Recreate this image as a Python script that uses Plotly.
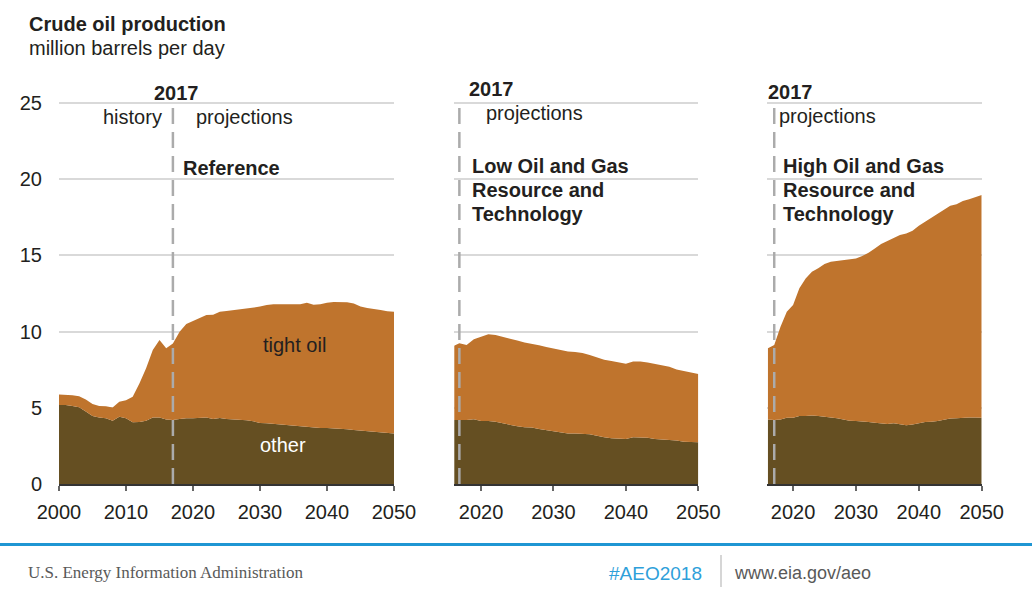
import plotly.graph_objects as go

# ---------------- data ----------------
years_ref = list(range(2000, 2051))
ref_other = [5.18, 5.18, 5.12, 5.03, 4.75, 4.46, 4.37, 4.31, 4.15, 4.42,
             4.31, 4.05, 4.07, 4.15, 4.37, 4.37, 4.24, 4.20, 4.26, 4.31,
             4.31, 4.35, 4.37, 4.26, 4.33, 4.26, 4.24, 4.22, 4.18, 4.11,
             4.00, 3.98, 3.94, 3.90, 3.85, 3.81, 3.77, 3.72, 3.70, 3.68,
             3.68, 3.66, 3.64, 3.59, 3.55, 3.51, 3.46, 3.42, 3.37, 3.33, 3.31]
ref_total = [5.88, 5.86, 5.82, 5.75, 5.55, 5.25, 5.12, 5.10, 5.02, 5.40,
             5.50, 5.73, 6.60, 7.60, 8.80, 9.45, 8.90, 9.22, 9.99, 10.50,
             10.70, 10.93, 11.09, 11.10, 11.30, 11.35, 11.40, 11.46, 11.55, 11.60,
             11.64, 11.75, 11.80, 11.80, 11.81, 11.83, 11.80, 11.90, 11.77, 11.80,
             11.90, 11.94, 11.94, 11.92, 11.85, 11.64, 11.55, 11.50, 11.42, 11.33, 11.30]

years_side = list(range(2016, 2051))
low_other = [4.20, 4.20, 4.20, 4.25,
             4.14, 4.14, 4.09, 3.98, 3.87, 3.79, 3.72, 3.70, 3.61, 3.54,
             3.48, 3.41, 3.32, 3.32, 3.30, 3.26, 3.17, 3.06, 3.00, 2.98,
             2.96, 3.06, 3.06, 3.04, 2.96, 2.93, 2.89, 2.85, 2.78, 2.74, 2.74]
low_total = [9.01, 9.23, 9.12, 9.49,
             9.67, 9.82, 9.78, 9.67, 9.56, 9.41, 9.28, 9.21, 9.10, 8.99,
             8.88, 8.81, 8.70, 8.66, 8.59, 8.46, 8.29, 8.16, 8.07, 8.00,
             7.89, 8.03, 8.03, 7.98, 7.89, 7.80, 7.69, 7.52, 7.41, 7.32, 7.21]
high_other = [4.24, 4.20, 4.24, 4.35,
              4.35, 4.46, 4.46, 4.50, 4.46, 4.42, 4.37, 4.31, 4.24, 4.15,
              4.13, 4.11, 4.07, 4.02, 3.96, 3.94, 3.98, 3.92, 3.85, 3.90,
              4.00, 4.07, 4.09, 4.13, 4.22, 4.29, 4.31, 4.35, 4.37, 4.37, 4.35]
high_total = [8.90, 9.12, 10.32, 11.30,
              11.74, 12.84, 13.49, 13.93, 14.15, 14.43, 14.59, 14.65, 14.70, 14.76,
              14.80, 14.96, 15.18, 15.46, 15.74, 15.94, 16.12, 16.34, 16.44, 16.62,
              16.95, 17.21, 17.47, 17.76, 18.04, 18.26, 18.35, 18.57, 18.68, 18.80, 18.96]

ref_ticks = [2000, 2010, 2020, 2030, 2040, 2050]
side_ticks = [2020, 2030, 2040, 2050]
y_ticks = [0, 5, 10, 15, 20, 25]
split_year = 2017

# ---------------- style ----------------
W, H = 1032, 598
SANS = "Liberation Sans, Arial, sans-serif"
SERIF = "Liberation Serif, Times New Roman, serif"
C_TIGHT = "#BF742D"
C_OTHER = "#654F22"
C_TEXT = "#231F20"
C_GRID = "#D9D9D9"
C_DASH = "#ABABAB"
C_BLUE = "#1F96D3"


def px(x):
    return x / W


def py(y):
    return 1 - y / H


y_dom = [py(484), py(484 - 26 * 15.24)]
panels = [
    ("x", "y", years_ref, ref_other, ref_total, [px(59), px(394)], [2000, 2050], ref_ticks),
    ("x2", "y2", years_side, low_other, low_total, [px(454.3), px(698.3)], [2016.3, 2050], side_ticks),
    ("x3", "y3", years_side, high_other, high_total, [px(767.3), px(981.7)], [2015.9, 2050], side_ticks),
]

fig = go.Figure()
layout = dict(
    template="none",
    width=W, height=H, margin=dict(l=0, r=0, t=0, b=0, pad=0, autoexpand=False),
    paper_bgcolor="white", plot_bgcolor="rgba(0,0,0,0)",
    showlegend=False, font=dict(family=SANS, size=20, color=C_TEXT),
)
shapes = []
for i, (xa, ya, yrs, oth, tot, xdom, xr, ticks) in enumerate(panels):
    fig.add_trace(go.Scatter(x=yrs, y=oth, xaxis=xa, yaxis=ya, mode="lines",
                             line=dict(width=0, color=C_OTHER), fill="tozeroy",
                             fillcolor=C_OTHER, hoverinfo="skip", name="other"))
    fig.add_trace(go.Scatter(x=yrs, y=tot, xaxis=xa, yaxis=ya, mode="lines",
                             line=dict(width=0, color=C_TIGHT), fill="tonexty",
                             fillcolor=C_TIGHT, hoverinfo="skip", name="tight oil"))
    xkey = "xaxis" if i == 0 else f"xaxis{i+1}"
    ykey = "yaxis" if i == 0 else f"yaxis{i+1}"
    layout[xkey] = dict(domain=xdom, range=xr, anchor=ya, tickvals=ticks,
                        showgrid=False, zeroline=False, showline=True,
                        linecolor="#333333", linewidth=1.5, ticks="outside",
                        ticklen=5, tickwidth=1.5, tickcolor="#666666",
                        tickfont=dict(family=SANS, size=20, color=C_TEXT),
                        ticklabelstandoff=4, automargin=False, fixedrange=True)
    layout[ykey] = dict(domain=y_dom, range=[0, 26], anchor=xa, tickvals=y_ticks,
                        showgrid=True, gridcolor=C_GRID, gridwidth=1.5,
                        zeroline=False, showline=False, ticks="",
                        showticklabels=(i == 0),
                        tickfont=dict(family=SANS, size=20, color=C_TEXT),
                        ticklabelstandoff=16, automargin=False, fixedrange=True)
    shapes.append(dict(type="line", xref=xa, yref=ya, x0=split_year, x1=split_year,
                       y0=24.67, y1=0, line=dict(color=C_DASH, width=2.5, dash="16px,8px"),
                       layer="above"))

# footer lines
shapes.append(dict(type="line", xref="paper", yref="paper", x0=0, x1=1,
                   y0=py(544.5), y1=py(544.5), line=dict(color=C_BLUE, width=3)))
shapes.append(dict(type="line", xref="paper", yref="paper", x0=px(721), x1=px(721),
                   y0=py(555), y1=py(587), line=dict(color="#C9C9C9", width=1.5)))
layout["shapes"] = shapes

ann = []


def text(x, y, s, size=20, bold=False, color=C_TEXT, xanchor="left", family=SANS):
    ann.append(dict(xref="paper", yref="paper", x=px(x), y=py(y), text=(f"<b>{s}</b>" if bold else s),
                    showarrow=False, xanchor=xanchor, yanchor="middle",
                    font=dict(family=family, size=size, color=color)))


text(27, 24, "Crude oil production", bold=True)
text(27, 48, "million barrels per day")
# panel 1
text(176, 93, "2017", bold=True, xanchor="center")
text(164, 117, "history", xanchor="right")
text(194, 117, "projections")
text(181, 168, "Reference", bold=True)
text(294, 345, "tight oil", xanchor="center")
text(283, 445, "other", color="white", xanchor="center")
# panel 2
text(467, 89, "2017", bold=True)
text(484, 113, "projections")
text(470, 166, "Low Oil and Gas", bold=True)
text(470, 190, "Resource and", bold=True)
text(470, 214, "Technology", bold=True)
# panel 3
text(766, 92, "2017", bold=True)
text(777, 116, "projections")
text(781, 166, "High Oil and Gas", bold=True)
text(781, 190, "Resource and", bold=True)
text(781, 214, "Technology", bold=True)
# footer
text(26, 572, "U.S. Energy Information Administration", size=17, color="#595959", family=SERIF)
text(607, 573, "#AEO2018", size=19, color="#2EA0DA")
text(732, 573, "www.eia.gov/aeo", size=18, color="#595959")
layout["annotations"] = ann

fig.update_layout(**layout)
fig.write_html("out.html", config={"displayModeBar": False},
               post_script="document.body.style.margin='0px';document.body.style.padding='0px';")
